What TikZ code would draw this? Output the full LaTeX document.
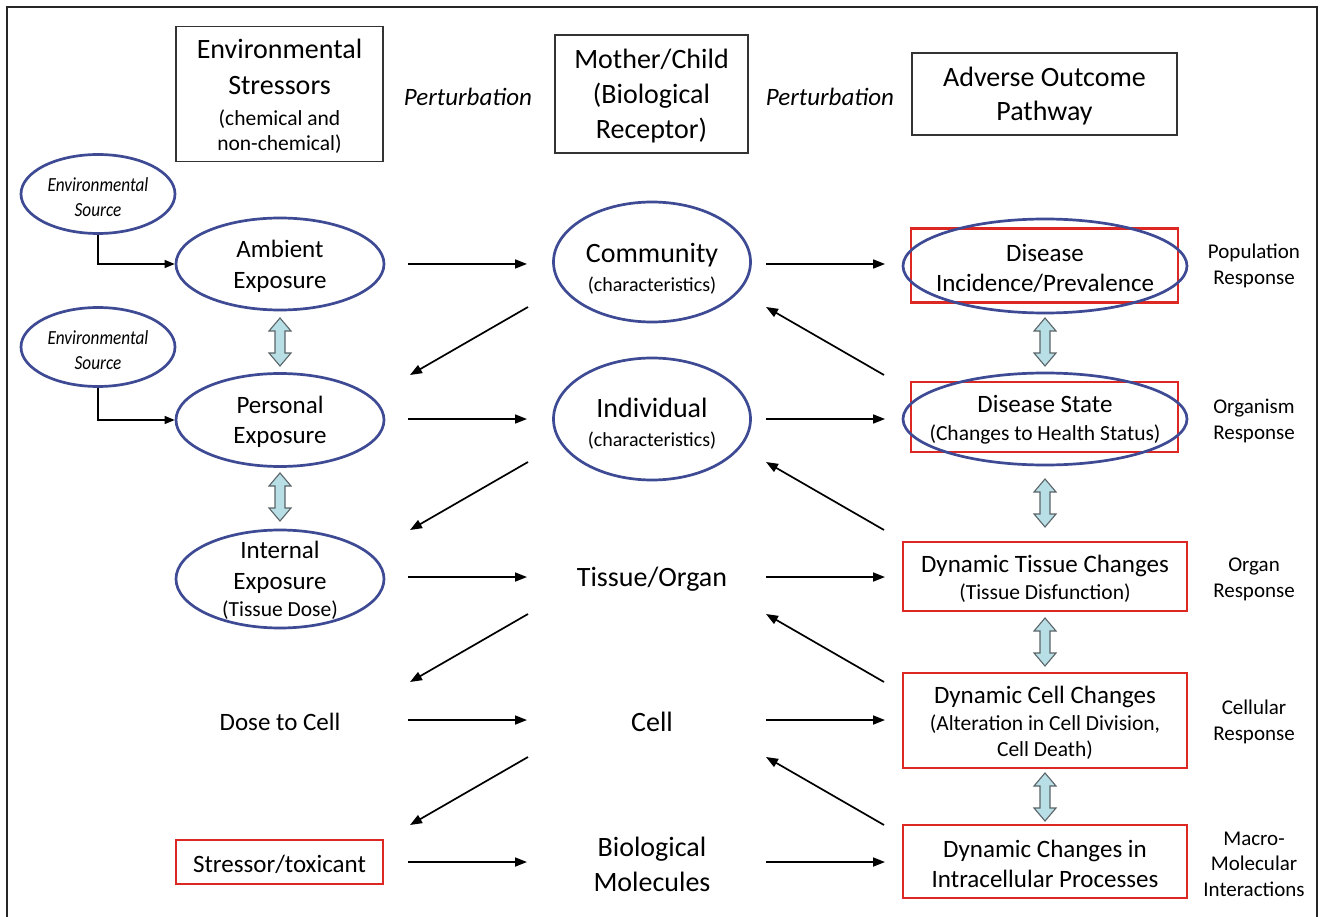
\documentclass[tikz,border=0pt]{standalone}
\usepackage{fontspec}
\setmainfont{Carlito}
\usetikzlibrary{arrows.meta,shapes.geometric}
\definecolor{ellblue}{HTML}{3E4A94}
\definecolor{boxred}{HTML}{DD2722}
\definecolor{arrfill}{HTML}{B9DFE6}
\definecolor{arrline}{HTML}{5A6468}
\newcommand{\fz}[2]{\fontsize{#1}{#2}\selectfont}
\newcommand{\fsub}{\fontsize{21.5}{26}\selectfont}
\newcommand{\fsmall}{\fontsize{20}{26}\selectfont}
\newcommand{\envsrc}{\scalebox{0.86}[1]{Environmental}\\\scalebox{0.86}[1]{Source}}
\tikzset{
  x=1pt, y=-1pt,
  hdrbox/.style={draw=black!80, line width=1.3pt, inner sep=0pt, align=center},
  ell/.style={draw=ellblue, ellipse, line width=2.7pt, inner sep=0pt},
  redbox/.style={draw=boxred, line width=2.7pt, inner sep=0pt, align=center},
  plain/.style={align=center, inner sep=0pt, yshift=-2pt},
  arr/.style={-{Triangle[length=12pt,width=9pt]}, line width=1.7pt, black},
  srcarr/.style={-{Triangle[length=10pt,width=8pt]}, line width=1.3pt, black},
  dblstyle/.style={draw=arrline, fill=arrfill, line width=1.1pt, line join=miter},
  dbl/.pic={\path[dblstyle] (0,-24) -- (11,-11) -- (5,-11) -- (5,11) -- (11,11) -- (0,24) -- (-11,11) -- (-5,11) -- (-5,-11) -- (-11,-11) -- cycle;}
}
\begin{document}
\begin{tikzpicture}
\useasboundingbox (0,0) rectangle (1320,917);
\fill[white] (0,0) rectangle (1320,917);
% frame
\draw[line width=1.3pt, black!85] (7,917) -- (7,7) -- (1317,7) -- (1317,917);

% header boxes
\node[hdrbox, minimum width=207pt, minimum height=135pt] (hes) at (279.5,94) {};
\node[plain, font=\fz{28}{36}] (hest) at (279.5,94) {Environmental\\Stressors\\[-5pt]{\fsub (chemical and}\\[-11pt]{\fsub non-chemical)}};
\node[hdrbox, minimum width=193pt, minimum height=118pt] (hmc) at (651.5,94) {};
\node[plain, font=\fz{28}{35}] (hmct) at (651.5,94) {Mother/Child\\(Biological\\Receptor)};
\node[hdrbox, minimum width=265pt, minimum height=82pt] (hao) at (1044.5,94) {};
\node[plain, font=\fz{28}{34}] (haot) at (1044.5,94) {Adverse Outcome\\Pathway};
\node[plain, font=\fz{25}{30}\itshape] (p1) at (468,95) {Perturbation};
\node[plain, font=\fz{25}{30}\itshape] (p2) at (830,95) {Perturbation};

% environmental sources
\node[ell, minimum width=154pt, minimum height=79pt] (es1) at (98,194) {};
\node[plain, font=\fz{20}{25}\itshape] (es1t) at (98,195) {\envsrc};
\node[ell, minimum width=154pt, minimum height=79pt] (es2) at (98,347) {};
\node[plain, font=\fz{20}{25}\itshape] (es2t) at (98,348) {\envsrc};

% left column
\node[ell, minimum width=208pt, minimum height=92pt] (amb) at (280,264) {};
\node[plain, font=\fz{25}{31}] (ambt) at (280,264) {Ambient\\Exposure};
\node[ell, minimum width=208pt, minimum height=93pt] (per) at (280,420) {};
\node[plain, font=\fz{25}{30}] (pert) at (280,420) {Personal\\Exposure};
\node[ell, minimum width=208pt, minimum height=98pt] (int) at (280,579) {};
\node[plain, font=\fz{25}{31}] (intt) at (280,578) {Internal\\Exposure\\[-4pt]{\fsub (Tissue Dose)}};
\node[plain, font=\fz{25}{30}] (dose) at (280,720) {Dose to Cell};
\node[redbox, minimum width=207pt, minimum height=44pt] (str) at (279.5,862) {};
\node[plain, font=\fz{25}{30}] (strt) at (279.5,862) {Stressor/toxicant};

% middle column
\node[ell, minimum width=197pt, minimum height=120pt] (com) at (652,262) {};
\node[plain, font=\fz{28}{29}] (comt) at (652,267) {Community\\{\fsmall (characteristics)}};
\node[ell, minimum width=197pt, minimum height=122pt] (ind) at (652,419) {};
\node[plain, font=\fz{28}{29}] (indt) at (652,422) {Individual\\{\fsmall (characteristics)}};
\node[plain, font=\fz{28}{34}] (tis) at (652,577) {Tissue/Organ};
\node[plain, font=\fz{28}{34}] (cel) at (652,720) {Cell};
\node[plain, font=\fz{28}{35}] (bio) at (652,862) {Biological\\Molecules};

% right column
\node[redbox, minimum width=267pt, minimum height=74pt] (dip) at (1044.5,265.5) {};
\node[ell, minimum width=284pt, minimum height=94pt] (dipe) at (1045,266) {};
\node[plain, font=\fz{25}{30}] (dipt) at (1045,266) {Disease\\Incidence/Prevalence};
\node[redbox, minimum width=267pt, minimum height=70pt] (dst) at (1044.5,417) {};
\node[ell, minimum width=284pt, minimum height=92pt] (dste) at (1045,419) {};
\node[plain, font=\fz{25}{28}] (dstt) at (1045,418) {Disease State\\{\fsub (Changes to Health Status)}};
\node[redbox, minimum width=284pt, minimum height=69pt] (dtc) at (1045,576.5) {};
\node[plain, font=\fz{25}{27}] (dtct) at (1045,577) {Dynamic Tissue Changes\\{\fsub (Tissue Disfunction)}};
\node[redbox, minimum width=284pt, minimum height=95pt] (dcc) at (1045,720.5) {};
\node[plain, font=\fz{25}{27}] (dcct) at (1045,721) {Dynamic Cell Changes\\{\fsub (Alteration in Cell Division,}\\[-1pt]{\fsub Cell Death)}};
\node[redbox, minimum width=284pt, minimum height=73pt] (dci) at (1045,861.5) {};
\node[plain, font=\fz{25}{30}] (dcit) at (1045,862) {Dynamic Changes in\\Intracellular Processes};

% response labels
\node[plain, font=\fz{21}{26}] (r1) at (1254,264) {Population\\Response};
\node[plain, font=\fz{21}{26}] (r2) at (1254,419) {Organism\\Response};
\node[plain, font=\fz{21}{26}] (r3) at (1254,577) {Organ\\Response};
\node[plain, font=\fz{21}{26}] (r4) at (1254,720) {Cellular\\Response};
\node[plain, font=\fz{21}{25.5}] (r5) at (1254,862) {Macro-\\Molecular\\Interactions};

% source connectors
\draw[srcarr] (es1.south) |- (amb.west);
\draw[srcarr] (es2.south) |- (per.west);

% double arrows
\pic at (280,342) {dbl};
\pic at (280,497) {dbl};
\pic at (1045,342) {dbl};
\pic at (1045,503) {dbl};
\pic at (1045,642) {dbl};
\pic at (1045,797) {dbl};

% horizontal arrows
\foreach \n/\y in {1/264,2/419,3/577,4/720,5/862}{
  \coordinate (la\n) at (408,\y);
  \coordinate (lb\n) at (527,\y);
  \coordinate (ra\n) at (766,\y);
  \coordinate (rb\n) at (885,\y);
  \draw[arr] (la\n) -- (lb\n);
  \draw[arr] (ra\n) -- (rb\n);
}
% diagonal arrows
\foreach \n/\y in {1/307,2/462,3/614,4/757}{
  \coordinate (da\n) at (528,\y);
  \coordinate (db\n) at (410,\y+68);
  \coordinate (ua\n) at (884,\y+68);
  \coordinate (ub\n) at (766,\y);
  \draw[arr] (da\n) -- (db\n);
  \draw[arr] (ua\n) -- (ub\n);
}
\end{tikzpicture}
\end{document}
